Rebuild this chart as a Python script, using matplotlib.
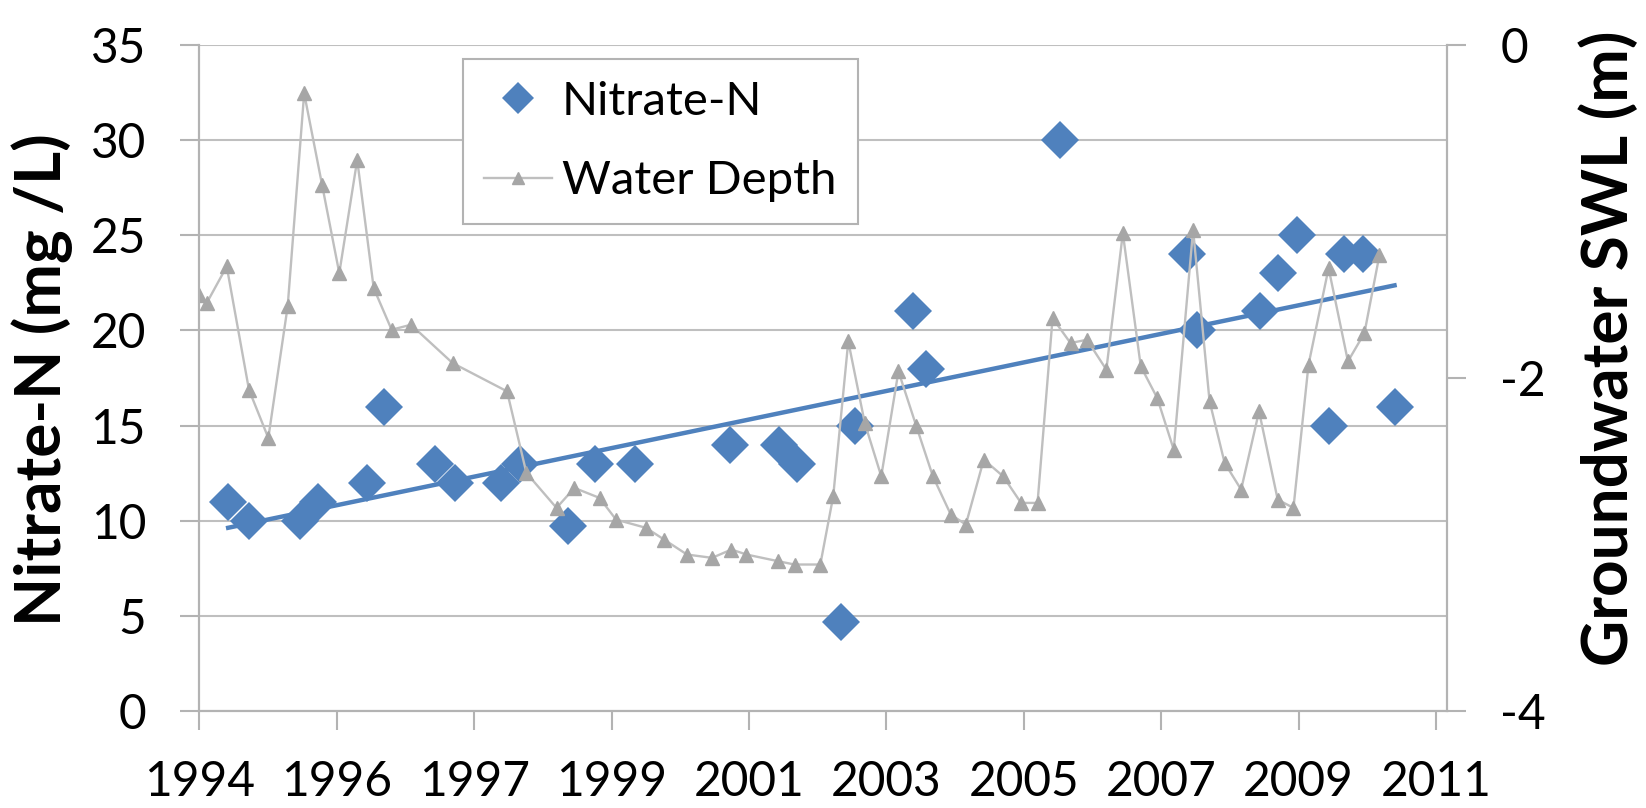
import numpy as np
import matplotlib
matplotlib.use('Agg')
import matplotlib.pyplot as plt

# nitrate samples (decimal year, mg/L)
nitrate_year = [1994.50, 1994.79, 1995.50, 1995.75, 1996.44, 1996.67, 1997.38, 1997.66,
                1998.30, 1998.57, 1999.24, 1999.62, 2000.18, 2001.50, 2002.19, 2002.44,
                2003.05, 2003.24, 2004.05, 2004.24, 2006.10, 2007.87, 2008.01, 2008.90,
                2009.14, 2009.41, 2009.85, 2010.06, 2010.33, 2010.77]
nitrate_val = [11, 10, 10, 11, 12, 16, 13, 12,
               12, 13, 9.7, 13, 13, 14, 14, 13,
               4.7, 15, 21, 18, 30, 24, 20, 21,
               23, 25, 15, 24, 24, 16]

# groundwater static water level (decimal year, m)
depth_year = [1994.10, 1994.20, 1994.48, 1994.79, 1995.06, 1995.33, 1995.56, 1995.81,
              1996.05, 1996.30, 1996.53, 1996.78, 1997.05, 1997.63, 1998.39, 1998.66,
              1999.08, 1999.33, 1999.68, 1999.91, 2000.33, 2000.58, 2000.90, 2001.25,
              2001.52, 2001.73, 2002.17, 2002.40, 2002.76, 2002.94, 2003.15, 2003.38,
              2003.61, 2003.85, 2004.10, 2004.33, 2004.58, 2004.79, 2005.04, 2005.31,
              2005.56, 2005.79, 2006.00, 2006.25, 2006.48, 2006.75, 2006.98, 2007.23,
              2007.46, 2007.69, 2007.96, 2008.19, 2008.40, 2008.63, 2008.88, 2009.14,
              2009.36, 2009.57, 2009.85, 2010.12, 2010.35, 2010.56]
depth_val = [-1.50, -1.55, -1.33, -2.07, -2.36, -1.57, -0.29, -0.84,
             -1.37, -0.69, -1.46, -1.71, -1.68, -1.91, -2.08, -2.57,
             -2.78, -2.66, -2.72, -2.85, -2.90, -2.97, -3.06, -3.08,
             -3.03, -3.06, -3.10, -3.12, -3.12, -2.71, -1.78, -2.27,
             -2.59, -1.96, -2.29, -2.59, -2.82, -2.88, -2.49, -2.59,
             -2.75, -2.75, -1.64, -1.79, -1.77, -1.95, -1.13, -1.93,
             -2.12, -2.43, -1.11, -2.14, -2.51, -2.67, -2.20, -2.73,
             -2.78, -1.92, -1.34, -1.90, -1.73, -1.26]

# date axis, one major unit = 700 days
x_start = 1994.1
x_step = 700 / 365.25
x_labels = ['1994', '1996', '1997', '1999', '2001', '2003', '2005', '2007', '2009', '2011']

blue = '#4F81BD'
grey_line = '#BFBFBF'
grey_mark = '#A6A6A6'
axis_grey = '#B3B3B3'

plt.rcParams['font.family'] = ['Lato', 'DejaVu Sans']
plt.rcParams['axes.unicode_minus'] = False

fig = plt.figure(figsize=(16.46, 8.08), dpi=100)
ax = fig.add_axes([0.1212, 0.12, 0.7579, 0.8243])
ax2 = ax.twinx()

ax.plot(nitrate_year, nitrate_val, ls='none', marker='D', ms=19, color=blue,
        markeredgewidth=0, label='Nitrate-N', zorder=3)

fit = np.polyfit(nitrate_year, nitrate_val, 1)
fx = np.array([min(nitrate_year), max(nitrate_year)])
ax.plot(fx, np.polyval(fit, fx), color=blue, lw=3.2, zorder=4)

ax2.plot(depth_year, depth_val, color=grey_line, lw=1.7, marker='^', ms=10,
         markerfacecolor=grey_mark, markeredgecolor=grey_mark, label='Water Depth')

ticks = [x_start + i * x_step for i in range(len(x_labels))]
ax.set_xticks(ticks)
ax.set_xticklabels(x_labels)
ax.set_xlim(x_start, x_start + 9.08 * x_step)

ax.set_ylim(0, 35)
ax.set_yticks(range(0, 36, 5))
ax2.set_ylim(-4, 0)
ax2.set_yticks([-4, -2, 0])

ax.yaxis.grid(True, color=grey_line, lw=1.5)
ax.set_axisbelow(True)

for a in [ax, ax2]:
    a.spines['top'].set_visible(False)
    for s in ['left', 'right', 'bottom']:
        a.spines[s].set_color(axis_grey)
        a.spines[s].set_linewidth(1.5)
    a.tick_params(direction='out', length=13.5, width=1.5, color=axis_grey,
                  labelsize=34.5, labelcolor='black')
ax.tick_params(axis='y', pad=25)
ax.tick_params(axis='x', pad=22)
ax2.tick_params(axis='y', pad=25)

fig.text(0.0258, 0.530, 'Nitrate-N (mg /L)', rotation=90, ha='center', va='center',
         fontsize=46, fontweight='bold')
fig.text(0.977, 0.569, 'Groundwater SWL (m)', rotation=90, ha='center', va='center',
         fontsize=46, fontweight='bold')

h1, l1 = ax.get_legend_handles_labels()
h2, l2 = ax2.get_legend_handles_labels()
leg = ax2.legend(h1 + h2, l1 + l2, loc='upper left',
                 bbox_to_anchor=(462.7 / 1646, 1 - 59.3 / 808), bbox_transform=fig.transFigure,
                 fontsize=34, frameon=True, fancybox=False, framealpha=1, edgecolor=axis_grey,
                 borderaxespad=0, borderpad=0.45, labelspacing=0.8, handlelength=1.45,
                 handletextpad=0.2, markerscale=0.85)
leg.get_frame().set_linewidth(1.5)
leg.set_zorder(10)

plt.savefig('out.png', dpi=100)
